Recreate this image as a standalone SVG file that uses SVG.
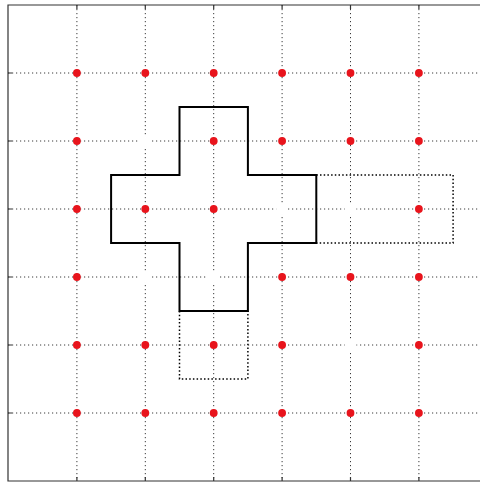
<svg xmlns="http://www.w3.org/2000/svg" width="480" height="483" viewBox="0 0 480 483">
<style>
.grid{stroke:#3a3a3a;stroke-width:1;stroke-dasharray:1.2 2.8;fill:none}
.axis{stroke:#333;stroke-width:1.2;fill:none}
.tick{stroke:#333;stroke-width:1.2}
.pt{fill:#e8141c}
.gap{fill:#fff}
.cross{stroke:#000;stroke-width:2;fill:none;stroke-linejoin:miter}
.dotrect{stroke:#000;stroke-width:1.5;stroke-dasharray:1.5 2.2;fill:none}
</style>
<rect width="480" height="483" fill="#fff"/>
<g id="grid">
<path class="grid" d="M76.9,5V481M145.3,5V481M213.7,5V481M282.1,5V481M350.5,5V481M418.9,5V481"/>
<path class="grid" d="M8,73H480M8,141H480M8,209H480M8,277H480M8,345H480M8,413H480"/>
</g>
<g id="axes">
<path class="axis" d="M480,5H8V481H480"/>
<path class="tick" d="M8,73h4M8,141h4M8,209h4M8,277h4M8,345h4M8,413h4"/>
<path class="tick" d="M76.9,481v-4M145.3,481v-4M213.7,481v-4M282.1,481v-4M350.5,481v-4M418.9,481v-4"/>
<path class="tick" d="M76.9,5v4M145.3,5v4M213.7,5v4M282.1,5v4M350.5,5v4M418.9,5v4"/>
</g>
<g id="gaps">
<circle class="gap" cx="145.3" cy="141" r="6"/>
<circle class="gap" cx="282.1" cy="209" r="6"/>
<circle class="gap" cx="350.5" cy="209" r="6"/>
<circle class="gap" cx="145.3" cy="277" r="6"/>
<circle class="gap" cx="213.7" cy="277" r="6"/>
<circle class="gap" cx="350.5" cy="345" r="6"/>
</g>
<g id="points">
<circle class="pt" cx="76.9" cy="73" r="3.9"/><circle class="pt" cx="145.3" cy="73" r="3.9"/><circle class="pt" cx="213.7" cy="73" r="3.9"/><circle class="pt" cx="282.1" cy="73" r="3.9"/><circle class="pt" cx="350.5" cy="73" r="3.9"/><circle class="pt" cx="418.9" cy="73" r="3.9"/>
<circle class="pt" cx="76.9" cy="141" r="3.9"/><circle class="pt" cx="213.7" cy="141" r="3.9"/><circle class="pt" cx="282.1" cy="141" r="3.9"/><circle class="pt" cx="350.5" cy="141" r="3.9"/><circle class="pt" cx="418.9" cy="141" r="3.9"/>
<circle class="pt" cx="76.9" cy="209" r="3.9"/><circle class="pt" cx="145.3" cy="209" r="3.9"/><circle class="pt" cx="213.7" cy="209" r="3.9"/><circle class="pt" cx="418.9" cy="209" r="3.9"/>
<circle class="pt" cx="76.9" cy="277" r="3.9"/><circle class="pt" cx="282.1" cy="277" r="3.9"/><circle class="pt" cx="350.5" cy="277" r="3.9"/><circle class="pt" cx="418.9" cy="277" r="3.9"/>
<circle class="pt" cx="76.9" cy="345" r="3.9"/><circle class="pt" cx="145.3" cy="345" r="3.9"/><circle class="pt" cx="213.7" cy="345" r="3.9"/><circle class="pt" cx="282.1" cy="345" r="3.9"/><circle class="pt" cx="418.9" cy="345" r="3.9"/>
<circle class="pt" cx="76.9" cy="413" r="3.9"/><circle class="pt" cx="145.3" cy="413" r="3.9"/><circle class="pt" cx="213.7" cy="413" r="3.9"/><circle class="pt" cx="282.1" cy="413" r="3.9"/><circle class="pt" cx="350.5" cy="413" r="3.9"/><circle class="pt" cx="418.9" cy="413" r="3.9"/>
</g>
<g id="cross">
<path class="cross" d="M179.5,107H247.9V175H316.3V243H247.9V311H179.5V243H111.1V175H179.5Z"/>
</g>
<g id="shifted">
<path class="dotrect" d="M316.3,175H453.1V243H316.3"/>
<path class="dotrect" d="M179.5,311V379H247.9V311"/>
</g>
</svg>
